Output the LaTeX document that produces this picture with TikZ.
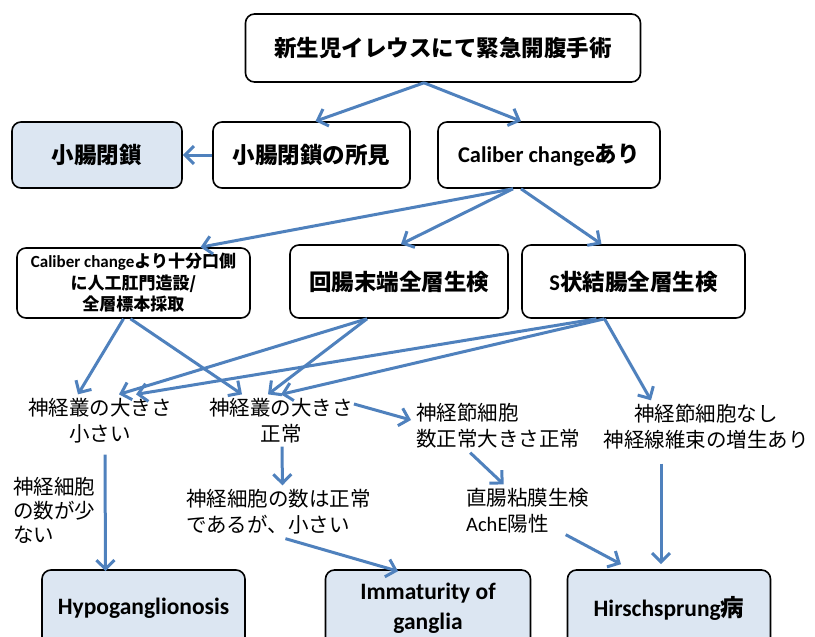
\documentclass[tikz,border=0pt]{standalone}
\usepackage{fontspec}
\setmainfont{Noto Sans CJK JP}
\newfontfamily\lat{Carlito}
\usetikzlibrary{arrows.meta}
\definecolor{arr}{RGB}{79,129,189}
\definecolor{fillb}{RGB}{220,230,242}
\tikzset{
  box/.style={draw=black, line width=1.6pt, rounded corners=9pt, fill=white, align=center, inner sep=0pt,
    font=\bfseries\fontsize{22.5}{27}\selectfont},
  dbox/.style={box, fill=fillb, font=\bfseries\fontsize{23.5}{30}\selectfont},
  txt/.style={align=center, inner sep=1pt, font=\fontsize{20.5}{26}\selectfont},
  arw/.style={draw=arr, line width=3pt, -{Straight Barb[length=9pt,width=18pt]}},
}
\begin{document}
\begin{tikzpicture}[x=1pt,y=-1pt]
\useasboundingbox (0,0) rectangle (815,637);
\clip (0,0) rectangle (815,637);
\fill[white] (0,0) rectangle (815,637);

% boxes
\node[box, minimum width=395pt, minimum height=68pt] (top) at (443,48) {新生児イレウスにて緊急開腹手術};
\node[dbox, minimum width=170pt, minimum height=66pt, font=\bfseries\fontsize{22.5}{27}\selectfont] (n1) at (97,155) {小腸閉鎖};
\node[box, minimum width=197pt, minimum height=66pt] (n2) at (311.5,155) {小腸閉鎖の所見};
\node[box, minimum width=222pt, minimum height=66pt] (n3) at (549,155) {{\lat Caliber change}あり};
\node[box, minimum width=233pt, minimum height=70pt, font=\bfseries\fontsize{17}{21.5}\selectfont] (n4) at (133.5,283) {{\lat Caliber change}より十分口側\\に人工肛門造設/\\全層標本採取};
\node[box, minimum width=218pt, minimum height=73pt] (n5) at (399,281.5) {回腸末端全層生検};
\node[box, minimum width=223pt, minimum height=73pt] (n6) at (633.5,281.5) {{\lat S}状結腸全層生検};

% text nodes
\node[txt] (t1) at (100,421) {神経叢の大きさ\\小さい};
\node[txt] (t2) at (281,421) {神経叢の大きさ\\正常};
\node[txt, align=left, anchor=west] (t3) at (415,426) {神経節細胞\\数正常大きさ正常};
\node[txt] (t4) at (706,427) {神経節細胞なし\\神経線維束の増生あり};
\node[txt, align=left, anchor=west, font=\fontsize{20.5}{24}\selectfont] (t5) at (12,510) {神経細胞\\の数が少\\ない};
\node[txt, align=left, anchor=west] (t6) at (185,512) {神経細胞の数は正常\\であるが、小さい};
\node[txt, align=left, anchor=west] (t7) at (465,511) {直腸粘膜生検\\{\lat AchE}陽性};

% bottom boxes
\node[dbox, minimum width=203pt, minimum height=76pt] (b1) at (143.5,608) {{\lat Hypoganglionosis}};
\node[dbox, minimum width=205pt, minimum height=76pt] (b2) at (428,608) {{\lat Immaturity of}\\{\lat ganglia}};
\node[dbox, minimum width=203pt, minimum height=76pt] (b3) at (669,608) {{\lat Hirschsprung}病};

% connectors
\draw[arw] ([xshift=-19pt]top.south) -- ([xshift=4pt]n2.north);
\draw[arw] ([xshift=-19pt]top.south) -- ([xshift=-28pt]n3.north);
\draw[arw] (n2.west) -- (n1.east);
\draw[arw] ([xshift=-36pt]n3.south) -- ([xshift=67pt]n4.north);
\draw[arw] ([xshift=-36pt]n3.south) -- ([xshift=2pt]n5.north);
\draw[arw] ([xshift=-28pt]n3.south) -- ([xshift=-32pt]n6.north);

\draw[arw] ([xshift=-10pt]n4.south) -- ([xshift=-22pt,yshift=3pt]t1.north);
\draw[arw] ([xshift=-3pt]n4.south) -- ([xshift=-39pt,yshift=3pt]t2.north);
\draw[arw] ([xshift=-32pt]n5.south) -- ([xshift=19pt,yshift=3pt]t1.north);
\draw[arw] ([xshift=-32pt]n5.south) -- ([xshift=-13pt,yshift=3pt]t2.north);
\draw[arw] ([xshift=-37pt]n6.south) -- ([xshift=36pt,yshift=3pt]t1.north);
\draw[arw] ([xshift=-29pt]n6.south) -- ([xshift=0pt,yshift=3pt]t2.north);
\draw[arw] ([xshift=-29pt]n6.south) -- ([xshift=-55pt,yshift=3pt]t4.north);

\draw[arw] ([yshift=17pt]t2.east) -- ([xshift=-4pt,yshift=6pt]t3.west);
\draw[arw] ([xshift=1pt,yshift=-2pt]t2.south) -- ([xshift=4pt,yshift=3pt]t6.north);
\draw[arw] ([xshift=-28pt,yshift=-3pt]t3.south) -- ([xshift=-24pt,yshift=3pt]t7.north);
\draw[arw] ([xshift=5pt,yshift=-10pt]t1.south) -- ([xshift=-38pt,yshift=-2pt]b1.north);
\draw[arw] ([xshift=7pt,yshift=-3pt]t6.south) -- ([xshift=-30pt,yshift=-2pt]b2.north);
\draw[arw] ([xshift=38pt]t7.south) -- ([xshift=-48pt,yshift=5pt]b3.north);
\draw[arw] ([xshift=-45pt,yshift=-13pt]t4.south) -- ([xshift=-8pt,yshift=5pt]b3.north);
\end{tikzpicture}
\end{document}
